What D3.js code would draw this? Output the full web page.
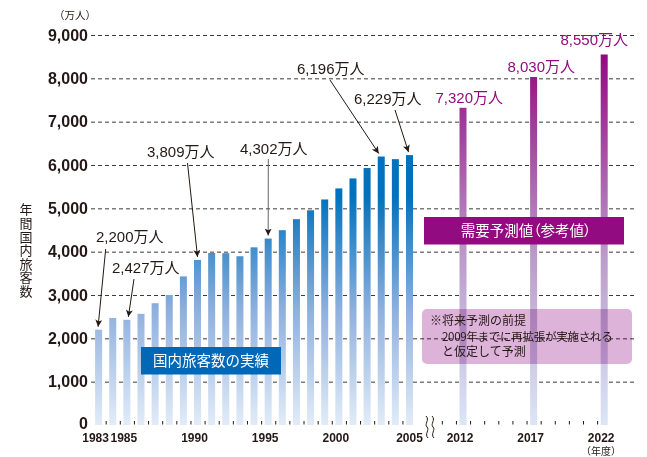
<!DOCTYPE html>
<html lang="ja">
<head>
<meta charset="utf-8">
<title>年間国内旅客数</title>
<script src="https://cdn.jsdelivr.net/npm/d3@7"></script>
<style>
  html, body { margin: 0; padding: 0; background: #fff; }
  svg { display: block; font-family: "Liberation Sans", Arial, "Noto Sans CJK JP", sans-serif; }
  .jp { font-family: "Noto Sans CJK JP", sans-serif; }
</style>
</head>
<body>
<svg id="chart" width="647" height="457"></svg>
<script>
// データ
const actualYears = [1983, 1984, 1985, 1986, 1987, 1988, 1989, 1990, 1991, 1992, 1993, 1994,
                     1995, 1996, 1997, 1998, 1999, 2000, 2001, 2002, 2003, 2004, 2005];
const actualValues = [2200, 2470, 2427, 2565, 2810, 3000, 3430, 3809, 3970, 3965, 3895, 4100,
                      4302, 4495, 4750, 4955, 5205, 5460, 5690, 5930, 6196, 6135, 6229];
const forecastYears = [2012, 2017, 2022];
const forecastValues = [7320, 8030, 8550];
const yTicks = [0, 1000, 2000, 3000, 4000, 5000, 6000, 7000, 8000, 9000];
const actualLabelYears = [1983, 1985, 1990, 1995, 2000, 2005];
const forecastLabelYears = [2012, 2017, 2022];
const calloutYears = [1983, 1985, 1990, 1995, 2003, 2005];
const calloutTexts = ["2,200万人", "2,427万人", "3,809万人", "4,302万人", "6,196万人", "6,229万人"];
const forecastTexts = ["7,320万人", "8,030万人", "8,550万人"];
const noteLines = ["※将来予測の前提", "2009年までに再拡張が実施される", "と仮定して予測"];

const svg = d3.select("#chart");
const ink = "#231815";
const purple = "#930b80";

// スケール（2005年と2012年の間は省略）
const y = d3.scaleLinear().domain([0, 9000]).range([425, 35]);
const xA = d3.scaleLinear().domain([1983, 2005]).range([98.6, 409.5]);
const xF = d3.scaleLinear().domain([2012, 2022]).range([463, 604.2]);
const barW = 7;

// グラデーション
const defs = svg.append("defs");
const blue = defs.append("linearGradient").attr("id", "gBlue")
    .attr("gradientUnits", "userSpaceOnUse")
    .attr("x1", 0).attr("x2", 0).attr("y1", y(0)).attr("y2", y(5300));
blue.append("stop").attr("offset", 0).attr("stop-color", "#e2ecf8");
blue.append("stop").attr("offset", 0.5).attr("stop-color", "#8eb0de");
blue.append("stop").attr("offset", 1).attr("stop-color", "#0071bd");

const purp = defs.append("linearGradient").attr("id", "gPurple")
    .attr("gradientUnits", "userSpaceOnUse")
    .attr("x1", 0).attr("x2", 0).attr("y1", y(0)).attr("y2", y(8550));
purp.append("stop").attr("offset", 0).attr("stop-color", "#dbe6f6");
purp.append("stop").attr("offset", 0.45).attr("stop-color", "#bb9cca");
purp.append("stop").attr("offset", 1).attr("stop-color", "#910a80");

defs.append("marker").attr("id", "arrow")
    .attr("viewBox", "0 0 10 10").attr("refX", 10).attr("refY", 5)
    .attr("markerWidth", 7).attr("markerHeight", 7)
    .attr("markerUnits", "userSpaceOnUse").attr("orient", "auto")
  .append("path").attr("d", "M0,0 L10,5 L0,10 L2.5,5 Z").attr("fill", ink);

// Y軸とグリッド
const yAxis = svg.append("g").attr("transform", "translate(91,0)")
    .call(d3.axisLeft(y).tickValues(yTicks).tickFormat(d3.format(",")).tickSize(-(635 - 91)).tickPadding(3));
yAxis.select(".domain").remove();
yAxis.selectAll(".tick line")
    .attr("stroke", "#3e3a39").attr("stroke-dasharray", "4,3")
    .filter(d => d === 0).remove();
yAxis.selectAll(".tick text")
    .attr("fill", ink).attr("font-size", 16).attr("font-weight", "bold")
    .attr("font-family", "'Liberation Sans', Arial, sans-serif")
    .filter(d => d === 0).attr("y", -2);

svg.append("text").attr("class", "jp").attr("x", 75).attr("y", 19)
    .attr("text-anchor", "middle").attr("font-size", 10.5).attr("fill", ink).text("（万人）");

// 縦書きの軸タイトル
svg.append("text").attr("class", "jp")
    .attr("x", 26).attr("y", 203)
    .attr("font-size", 13).attr("fill", ink)
    .style("writing-mode", "vertical-rl").style("letter-spacing", "0.6px")
    .text("年間国内旅客数");

// X軸の目盛り
const aTicks = svg.append("g").attr("transform", "translate(0,421)")
    .call(d3.axisBottom(xA).tickValues(actualYears.slice(0, -1).map(d => d + 0.5)).tickSize(3.5).tickFormat(""));
const fTicks = svg.append("g").attr("transform", "translate(0,421)")
    .call(d3.axisBottom(xF).tickValues(d3.range(2010, 2022).map(d => d + 0.5)).tickSize(3.5).tickFormat(""));
[aTicks, fTicks].forEach(g => {
  g.select(".domain").remove();
  g.selectAll(".tick line").attr("stroke", ink);
});

svg.append("g").selectAll("text").data(actualLabelYears).join("text")
    .attr("x", d => xA(d) + (d === 2005 ? 0 : -3)).attr("y", 441.5)
    .attr("text-anchor", "middle").attr("font-size", 12).attr("font-weight", "bold").attr("fill", ink)
    .text(d => d);
svg.append("g").selectAll("text").data(forecastLabelYears).join("text")
    .attr("x", d => xF(d) - 3).attr("y", 441.5)
    .attr("text-anchor", "middle").attr("font-size", 12).attr("font-weight", "bold").attr("fill", ink)
    .text(d => d);
svg.append("text").attr("class", "jp").attr("x", 601).attr("y", 455)
    .attr("text-anchor", "middle").attr("font-size", 10).attr("fill", ink).text("（年度）");

// 省略記号
[427, 433].forEach(bx => {
  svg.append("path")
    .attr("d", `M${bx - 1},416 C${bx + 3},420 ${bx - 3},424 ${bx},427 C${bx + 3},430 ${bx - 3},434 ${bx + 1},438`)
    .attr("fill", "none").attr("stroke", ink).attr("stroke-width", 1);
});

// 棒
svg.append("g").selectAll("rect").data(actualYears).join("rect")
    .attr("x", d => xA(d) - barW / 2).attr("width", barW)
    .attr("y", (d, i) => y(actualValues[i]))
    .attr("height", (d, i) => y(0) - y(actualValues[i]))
    .attr("fill", "url(#gBlue)");
svg.append("g").selectAll("rect").data(forecastYears).join("rect")
    .attr("x", d => xF(d) - barW / 2).attr("width", barW)
    .attr("y", (d, i) => y(forecastValues[i]))
    .attr("height", (d, i) => y(0) - y(forecastValues[i]))
    .attr("fill", "url(#gPurple)");

// 凡例ボックス
svg.append("rect").attr("x", 141).attr("y", 347).attr("width", 140).attr("height", 27.5).attr("fill", "#0068b7");
svg.append("text").attr("class", "jp").attr("x", 211).attr("y", 366)
    .attr("text-anchor", "middle").attr("font-size", 14.5).attr("fill", "#fff").text("国内旅客数の実績");

svg.append("rect").attr("x", 424).attr("y", 217).attr("width", 200).attr("height", 27.5).attr("fill", purple);
svg.append("text").attr("class", "jp").attr("x", 526).attr("y", 236)
    .attr("text-anchor", "middle").attr("font-size", 14.5).attr("fill", "#fff")
    .style("font-feature-settings", "'palt'").text("需要予測値（参考値）");

svg.append("rect").attr("x", 422).attr("y", 309).attr("width", 210).attr("height", 55).attr("rx", 5)
    .attr("fill", "#ddb3da").style("mix-blend-mode", "multiply");
const note = svg.append("text").attr("class", "jp").attr("font-size", 12).attr("fill", ink);
noteLines.forEach((line, i) => {
  const t = note.append("tspan").attr("x", i === 0 ? 430 : 442).attr("y", 325 + i * 15.5).text(line);
  if (i === 1) t.attr("font-size", 11.6).style("letter-spacing", "-0.35px");
});

// 注記と矢印
const calloutLayout = [
  { tx: 96,  ty: 242,   ax: 105.7, ay: 249,  ex: -0.5 },
  { tx: 112, ty: 273,   ax: 134,   ay: 279,  ex: 1.5 },
  { tx: 147, ty: 157,   ax: 187.5, ay: 163,  ex: 0 },
  { tx: 240, ty: 153.5, ax: 268.3, ay: 159,  ex: 0 },
  { tx: 297, ty: 73.5,  ax: 330,   ay: 80,   ex: -2.5 },
  { tx: 354, ty: 104,   ax: 395,   ay: 110,  ex: -1 }
];
calloutYears.forEach((yr, i) => {
  const L = calloutLayout[i];
  const v = actualValues[actualYears.indexOf(yr)];
  svg.append("line")
    .attr("x1", L.ax).attr("y1", L.ay)
    .attr("x2", xA(yr) + L.ex).attr("y2", y(v) - 3)
    .attr("stroke", i === 3 ? "#666" : ink).attr("stroke-width", 1)
    .attr("marker-end", "url(#arrow)");
  svg.append("text").attr("x", L.tx).attr("y", L.ty)
    .attr("font-size", 15).attr("fill", ink).text(calloutTexts[i]);
});

const forecastLabelEnd = [503, 575, 628];
forecastYears.forEach((yr, i) => {
  svg.append("text").attr("x", forecastLabelEnd[i]).attr("y", y(forecastValues[i]) - (i === 2 ? 10 : 5))
    .attr("text-anchor", "end").attr("font-size", 15).attr("fill", purple).text(forecastTexts[i]);
});
</script>
</body>
</html>
